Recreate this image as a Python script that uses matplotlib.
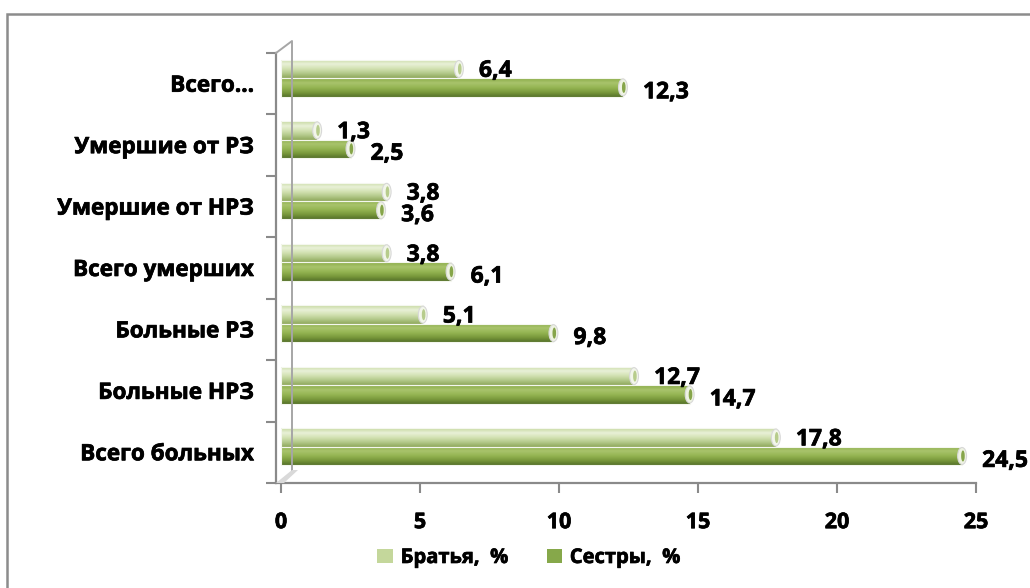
import numpy as np
import matplotlib
matplotlib.use("Agg")
import matplotlib.pyplot as plt
from matplotlib.patches import Rectangle, Ellipse, Patch
from matplotlib.colors import LinearSegmentedColormap
from matplotlib.lines import Line2D
import matplotlib.patheffects as pe

plt.rcParams['font.family'] = ['Open Sans', 'DejaVu Sans']
plt.rcParams['font.weight'] = 'bold'

categories = ["Всего больных", "Больные НРЗ", "Больные РЗ", "Всего умерших",
              "Умершие от НРЗ", "Умершие от РЗ", "Всего..."]
brothers = [17.8, 12.7, 5.1, 3.8, 3.8, 1.3, 6.4]
sisters = [24.5, 14.7, 9.8, 6.1, 3.6, 2.5, 12.3]
series_names = ["Братья,  %", "Сестры,  %"]
xticks = [0, 5, 10, 15, 20, 25]

W, H = 1030, 588
fig = plt.figure(figsize=(W / 100, H / 100), dpi=100)
fig.patch.set_facecolor('white')

ax = fig.add_axes([276 / W, 1 - 483 / H, 700 / W, 430 / H])
ax.set_facecolor('none')

gray = '#8a8a8a'
thick = [pe.withStroke(linewidth=0.5, foreground='black')]
light_cmap = LinearSegmentedColormap.from_list('l', ['#8fa85c', '#b3c98a', '#d3e2b3', '#e9f1d8', '#c6d8a0'])
dark_cmap = LinearSegmentedColormap.from_list('d', ['#56722a', '#7a9a3c', '#95b553', '#a9c46c', '#8aab47'])

y = np.arange(len(categories))
h = 0.30
off_l, off_d = 0.24, -0.06
grad = np.linspace(0, 1, 64).reshape(-1, 1)


def cyl(vals, offs, cmap, cap_face, cap_inner):
    bars = ax.barh(y + offs, vals, height=h, left=0, color='none',
                   edgecolor='#f4f7ee', linewidth=0.8, zorder=4)
    for p in bars:
        x0, y0 = p.get_x(), p.get_y()
        w, hh = p.get_width(), p.get_height()
        im = ax.imshow(grad, extent=[x0, x0 + w, y0, y0 + hh], origin='lower',
                       aspect='auto', cmap=cmap, zorder=3, interpolation='bilinear')
        im.set_clip_path(p)
        e = Ellipse((x0 + w, y0 + hh / 2), 0.32, hh * 0.92, facecolor=cap_face,
                    edgecolor='#d8d8d8', linewidth=0.8, zorder=5)
        ax.add_patch(e)
        e2 = Ellipse((x0 + w + 0.03, y0 + hh / 2), 0.13, hh * 0.6, facecolor=cap_inner,
                     edgecolor='none', zorder=6)
        ax.add_patch(e2)
    return bars


cyl(brothers, off_l, light_cmap, '#f2f6ea', '#b7cc8c')
cyl(sisters, off_d, dark_cmap, '#eef3e2', '#86a54a')

for yi, v in zip(y, brothers):
    ax.text(v + 0.72, yi + off_l - 0.03, f"{v:.1f}".replace('.', ','), ha='left', va='center',
            fontsize=16.5, fontweight='bold', color='black', zorder=7, path_effects=thick)
for yi, v in zip(y, sisters):
    ax.text(v + 0.72, yi + off_d - 0.08, f"{v:.1f}".replace('.', ','), ha='left', va='center',
            fontsize=16.5, fontweight='bold', color='black', zorder=7, path_effects=thick)

ax.set_xlim(-0.18, 25)
ax.set_ylim(-0.5, len(categories) - 0.5)
ax.set_xticks(xticks)
ax.set_xticklabels([str(t) for t in xticks], fontsize=15.5, fontweight='bold')
ax.set_yticks(y)
ax.set_yticklabels(categories, fontsize=16.2, fontweight='bold')
for t in ax.get_xticklabels() + ax.get_yticklabels():
    t.set_path_effects(thick)
ax.set_yticks(np.arange(-0.5, len(categories), 1), minor=True)
ax.tick_params(axis='y', which='major', length=0, pad=16)
ax.tick_params(axis='y', which='minor', length=7, width=1.5, color=gray, direction='out')
ax.tick_params(axis='x', which='major', length=7, width=1.5, color=gray, direction='out', pad=14)
for s in ['top', 'right']:
    ax.spines[s].set_visible(False)
for s in ['left', 'bottom']:
    ax.spines[s].set_color(gray)
    ax.spines[s].set_linewidth(1.6)


def px(xp, yp):
    return xp / W, 1 - yp / H


wall = [px(276, 53), px(292, 41), px(292, 470)]
xs, ys = zip(*wall)
fig.add_artist(Line2D(xs, ys, color='#a6a6a6', linewidth=1.4, zorder=1))
floor = plt.Polygon([px(276, 483), px(292, 470), px(298, 470), px(284, 483)], closed=True,
                    facecolor='#d9d9d9', edgecolor='none', transform=fig.transFigure, zorder=1)
fig.add_artist(floor)

fig.add_artist(Rectangle((7 / W, -0.2), 2.0, 1.2 - 14 / H, transform=fig.transFigure,
                         facecolor='none', edgecolor='#8c8c8c', linewidth=1.8, clip_on=False))

handles = [Patch(facecolor='#c4d79b', edgecolor='none'),
           Patch(facecolor='#86a84a', edgecolor='none')]
leg = fig.legend(handles, series_names, loc='center', bbox_to_anchor=(529 / W, 1 - 558 / H),
                 ncol=2, frameon=False, handlelength=0.75, handleheight=0.75,
                 handletextpad=0.4, columnspacing=1.9, prop={'weight': 'bold', 'size': 14.5})
for t in leg.get_texts():
    t.set_path_effects(thick)

fig.savefig('out.png', dpi=100, facecolor='white')
